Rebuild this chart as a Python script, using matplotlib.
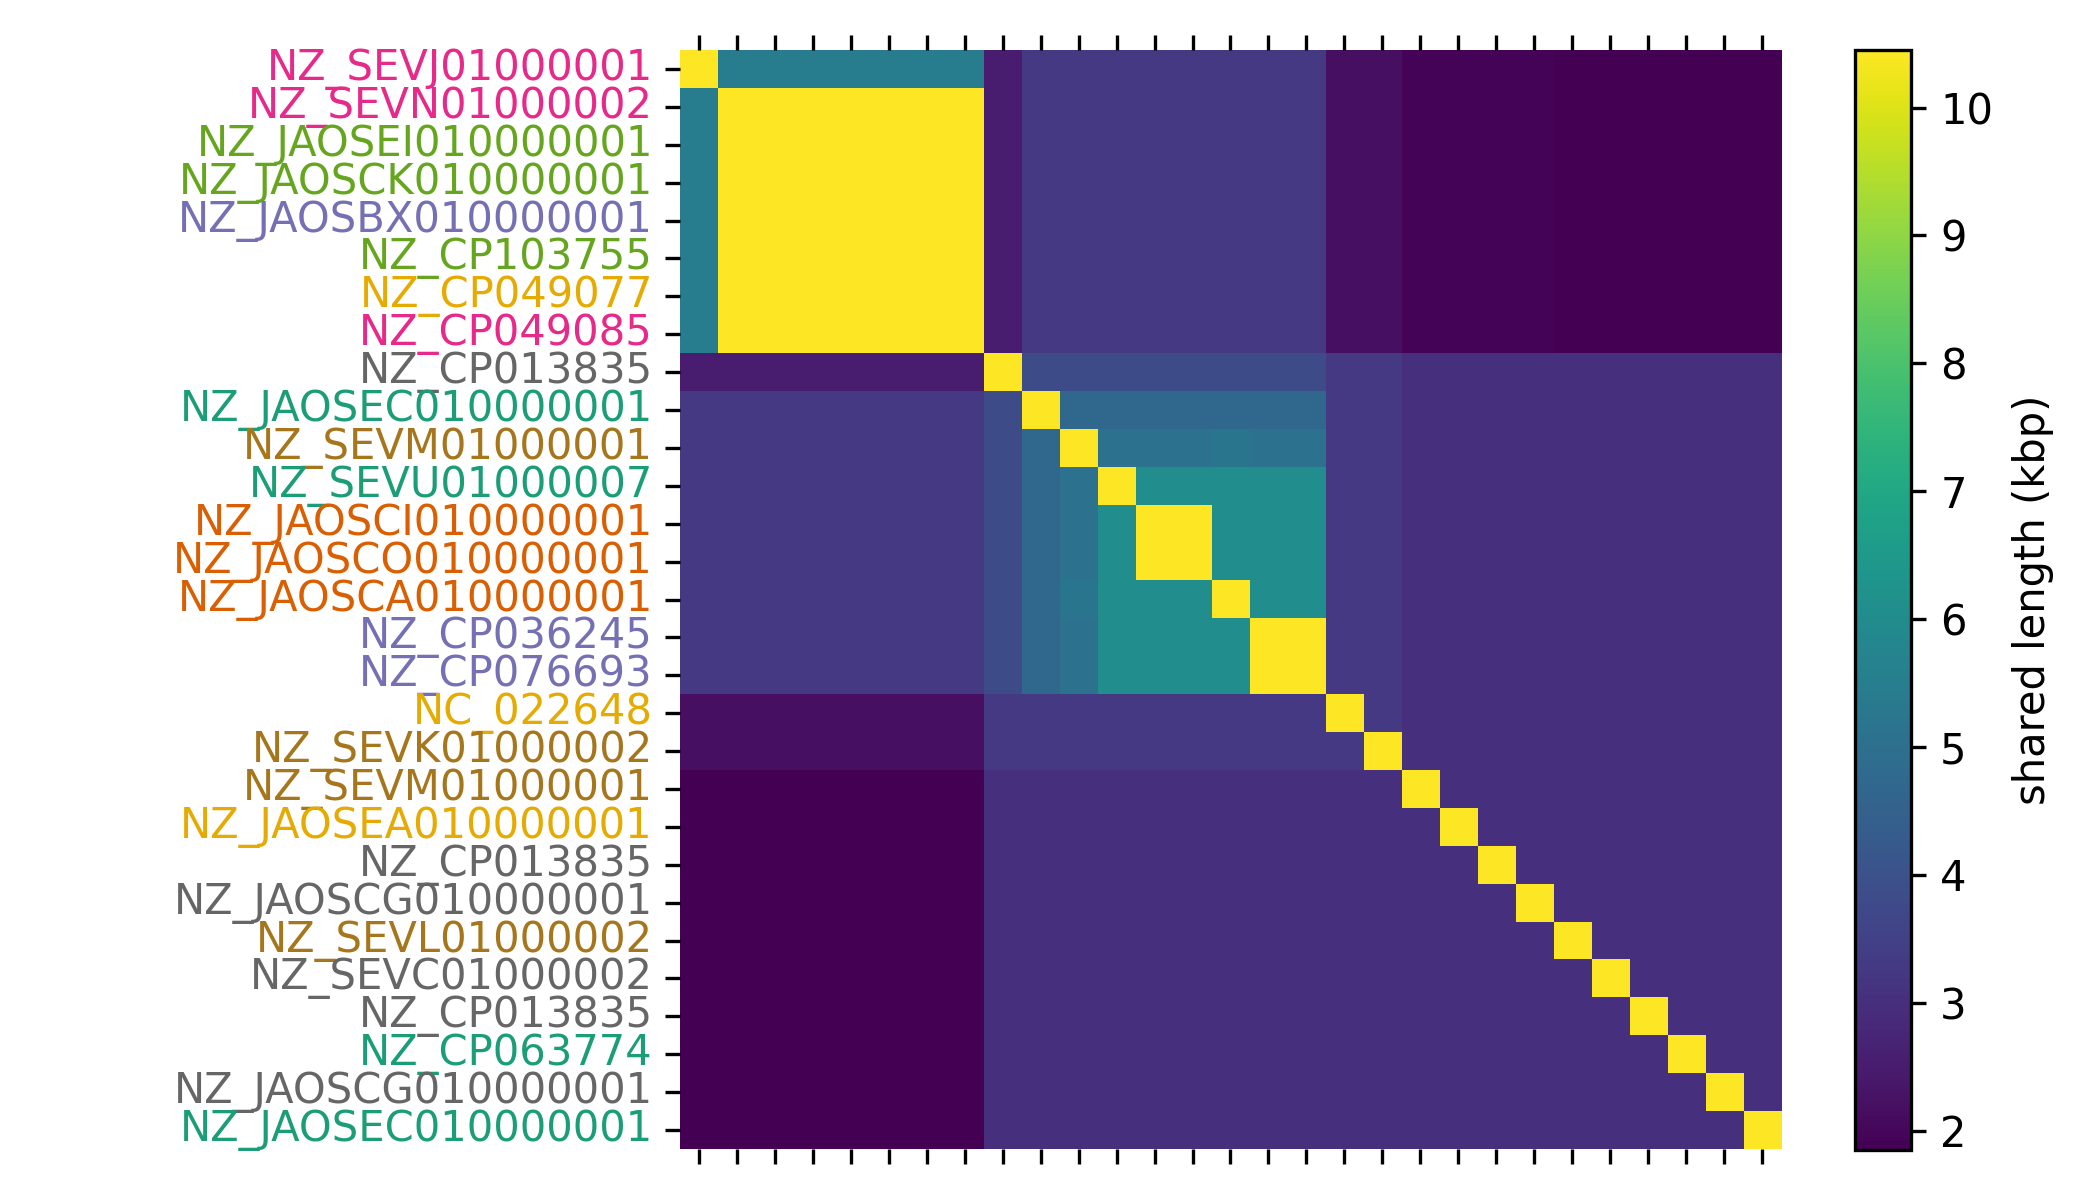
import numpy as np
import matplotlib
matplotlib.use("Agg")
import matplotlib.pyplot as plt

# sequence names (rows and columns share the same order)
names = ["NZ_SEVJ01000001", "NZ_SEVN01000002", "NZ_JAOSEI010000001",
         "NZ_JAOSCK010000001", "NZ_JAOSBX010000001", "NZ_CP103755",
         "NZ_CP049077", "NZ_CP049085", "NZ_CP013835", "NZ_JAOSEC010000001",
         "NZ_SEVM01000001", "NZ_SEVU01000007", "NZ_JAOSCI010000001",
         "NZ_JAOSCO010000001", "NZ_JAOSCA010000001", "NZ_CP036245",
         "NZ_CP076693", "NC_022648", "NZ_SEVK01000002", "NZ_SEVM01000001",
         "NZ_JAOSEA010000001", "NZ_CP013835", "NZ_JAOSCG010000001",
         "NZ_SEVL01000002", "NZ_SEVC01000002", "NZ_CP013835", "NZ_CP063774",
         "NZ_JAOSCG010000001", "NZ_JAOSEC010000001"]

# label colours (Dark2 groups)
name_colors = ["#e7298a", "#e7298a", "#66a61e", "#66a61e", "#7570b3", "#66a61e",
               "#e6ab02", "#e7298a", "#666666", "#1b9e77", "#a6761d", "#1b9e77",
               "#d95f02", "#d95f02", "#d95f02", "#7570b3", "#7570b3", "#e6ab02",
               "#a6761d", "#a6761d", "#e6ab02", "#666666", "#666666", "#a6761d",
               "#666666", "#666666", "#1b9e77", "#666666", "#1b9e77"]

# shared length values (kbp)
Y = 10.45   # self / identical
T = 5.5
D1 = 2.55
P = 3.27
D2 = 2.2
D3a = 1.92
D3b = 1.87
B = 3.83
C1 = 4.73
C2 = 5.08
C2b = 5.2
C3 = 6.05
Q = 3.27
R = 3.05
Z = 1.85

shared = [
    [Y] + [T]*7 + [D1] + [P]*8 + [D2]*2 + [D3a]*4 + [D3b]*6,
    [T] + [Y]*7 + [D1] + [P]*8 + [D2]*2 + [D3a]*4 + [D3b]*6,
    [T] + [Y]*7 + [D1] + [P]*8 + [D2]*2 + [D3a]*4 + [D3b]*6,
    [T] + [Y]*7 + [D1] + [P]*8 + [D2]*2 + [D3a]*4 + [D3b]*6,
    [T] + [Y]*7 + [D1] + [P]*8 + [D2]*2 + [D3a]*4 + [D3b]*6,
    [T] + [Y]*7 + [D1] + [P]*8 + [D2]*2 + [D3a]*4 + [D3b]*6,
    [T] + [Y]*7 + [D1] + [P]*8 + [D2]*2 + [D3a]*4 + [D3b]*6,
    [T] + [Y]*7 + [D1] + [P]*8 + [D2]*2 + [D3a]*4 + [D3b]*6,
    [D1]*8 + [Y] + [B]*8 + [Q]*2 + [R]*10,
    [P]*8 + [B] + [Y] + [C1]*7 + [Q]*2 + [R]*10,
    [P]*8 + [B] + [C1] + [Y] + [C2]*3 + [C2b] + [C2]*2 + [Q]*2 + [R]*10,
    [P]*8 + [B] + [C1] + [C2] + [Y] + [C3]*5 + [Q]*2 + [R]*10,
    [P]*8 + [B] + [C1] + [C2] + [C3] + [Y]*2 + [C3]*3 + [Q]*2 + [R]*10,
    [P]*8 + [B] + [C1] + [C2] + [C3] + [Y]*2 + [C3]*3 + [Q]*2 + [R]*10,
    [P]*8 + [B] + [C1] + [C2b] + [C3]*3 + [Y] + [C3]*2 + [Q]*2 + [R]*10,
    [P]*8 + [B] + [C1] + [C2] + [C3]*4 + [Y]*2 + [Q]*2 + [R]*10,
    [P]*8 + [B] + [C1] + [C2] + [C3]*4 + [Y]*2 + [Q]*2 + [R]*10,
    [D2]*8 + [Q]*9 + [Y] + [Q] + [R]*10,
    [D2]*8 + [Q]*9 + [Q] + [Y] + [R]*10,
    [Z]*8 + [R]*11 + [Y] + [R]*9,
    [Z]*8 + [R]*12 + [Y] + [R]*8,
    [Z]*8 + [R]*13 + [Y] + [R]*7,
    [Z]*8 + [R]*14 + [Y] + [R]*6,
    [Z]*8 + [R]*15 + [Y] + [R]*5,
    [Z]*8 + [R]*16 + [Y] + [R]*4,
    [Z]*8 + [R]*17 + [Y] + [R]*3,
    [Z]*8 + [R]*18 + [Y] + [R]*2,
    [Z]*8 + [R]*19 + [Y] + [R]*1,
    [Z]*8 + [R]*20 + [Y],
]

data = np.array(shared)
n = len(names)

fig = plt.figure(figsize=(7, 4), dpi=300)
ax = fig.add_axes([0.3238, 0.0425, 0.5243, 0.9158])
cax = fig.add_axes([0.8833, 0.0417, 0.0267, 0.9166])

im = ax.imshow(data, cmap="viridis", aspect="auto", interpolation="nearest",
               vmin=data.min(), vmax=data.max())

#labels on the left, bare ticks top and bottom
ax.set_yticks(np.arange(n))
ax.set_yticklabels(names, fontsize=10, va="center")
for lab, c in zip(ax.get_yticklabels(), name_colors):
    lab.set_color(c)
ax.tick_params(axis="y", pad=3)
ax.set_xticks(np.arange(n))
ax.set_xticklabels([])
ax.tick_params(axis="x", top=True, bottom=True, labeltop=False, labelbottom=False)
for s in ax.spines.values():
    s.set_visible(False)

cb = fig.colorbar(im, cax=cax)
cb.set_ticks(range(2, 11))
cb.ax.tick_params(labelsize=10)
cb.set_label("shared length (kbp)", fontsize=10, labelpad=4.5)

fig.savefig("out.png", dpi=300)
